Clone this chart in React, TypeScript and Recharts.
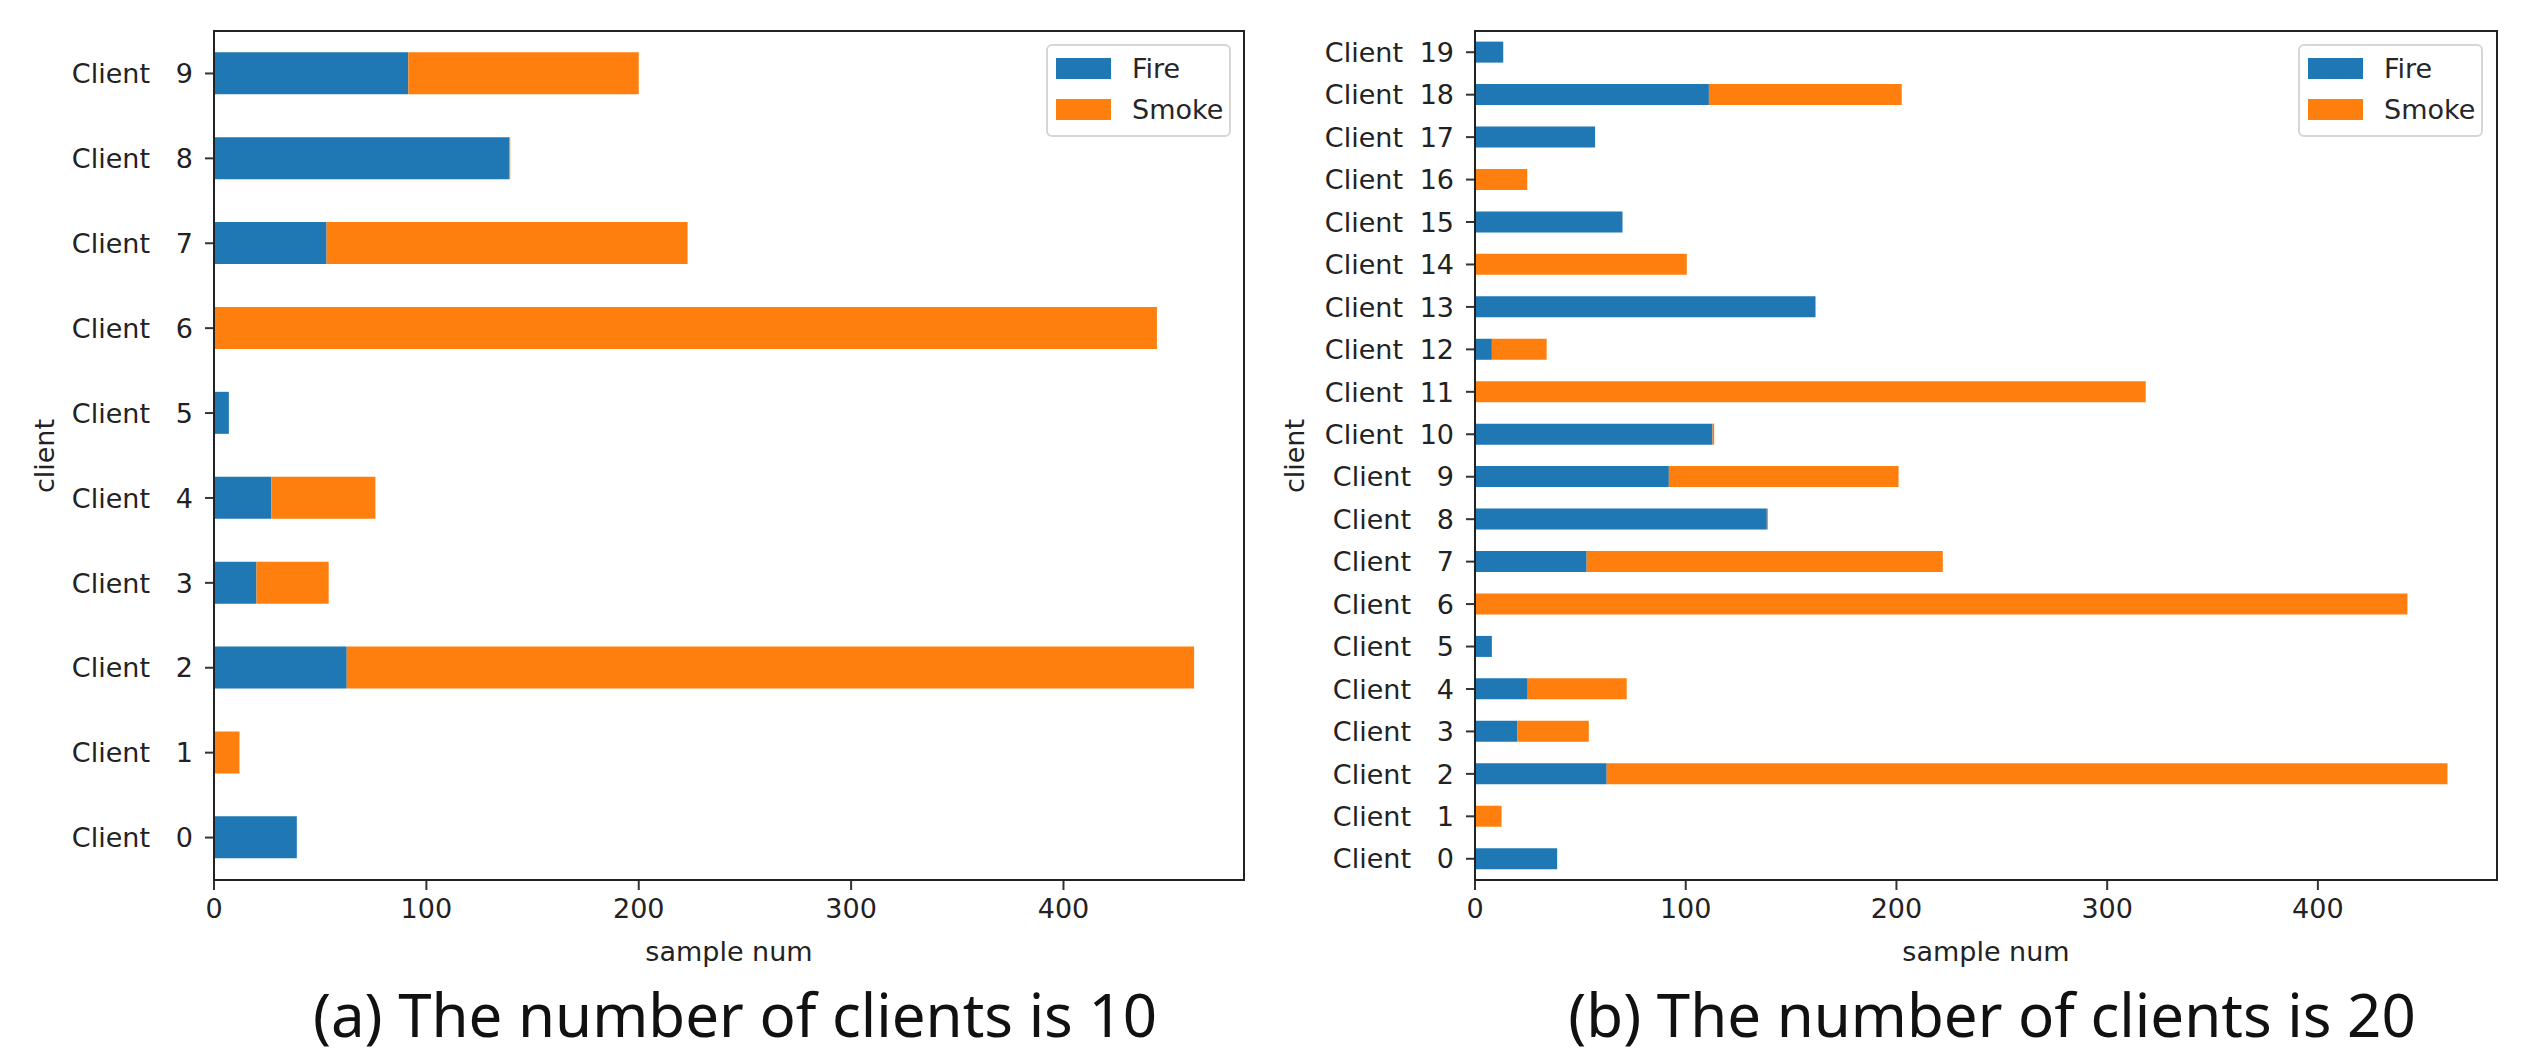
import React from "react";
import { BarChart, Bar, XAxis, YAxis } from "recharts";

// values (sample counts per client)
const clients10 = ["Client 0", "Client 1", "Client 2", "Client 3", "Client 4", "Client 5", "Client 6", "Client 7", "Client 8", "Client 9"];
const fire10 = [39, 0, 62.5, 20, 27, 7, 0, 53, 139, 91.5];
const smoke10 = [0, 12, 399, 34, 49, 0, 444, 170, 0.5, 108.5];

const clients20 = [
  "Client 0", "Client 1", "Client 2", "Client 3", "Client 4", "Client 5", "Client 6", "Client 7", "Client 8", "Client 9",
  "Client 10", "Client 11", "Client 12", "Client 13", "Client 14", "Client 15", "Client 16", "Client 17", "Client 18", "Client 19",
];
const fire20 = [39, 0, 62.5, 20, 25, 8, 0, 53, 138.5, 92, 112.7, 0, 8, 161.6, 0, 70, 0, 57, 111, 13.4];
const smoke20 = [0, 12.6, 399, 34, 47, 0, 442.5, 169, 0.5, 109, 0.8, 318.3, 26, 0, 100.5, 0, 24.8, 0, 91.5, 0];

const xTicks = [0, 100, 200, 300, 400];
const FIRE = "#1f77b4";
const SMOKE = "#ff7f0e";
const TICK_FONT = "DejaVu Sans";

const ClientTick = (props: any) => {
  const { x, y, payload } = props;
  const [word, num] = String(payload.value).split(" ");
  const wordEnd = x - (num.length === 1 ? 43 : 51);
  return (
    <g>
      <text x={wordEnd} y={y} dy="0.36em" textAnchor="end" fontSize={27} fontFamily={TICK_FONT} fill="#222">
        {word}
      </text>
      <text x={x} y={y} dy="0.36em" textAnchor="end" fontSize={27} fontFamily={TICK_FONT} fill="#222">
        {num}
      </text>
    </g>
  );
};

type PanelProps = {
  left: number;
  width: number;
  plotLeft: number;
  plotRight: number;
  clients: string[];
  fire: number[];
  smoke: number[];
  caption: string;
  legendLeft: number;
  yLabelX: number;
};

function Panel({ left, width, plotLeft, plotRight, clients, fire, smoke, caption, legendLeft, yLabelX }: PanelProps) {
  const data = clients.map((name, i) => ({ name, Fire: fire[i], Smoke: smoke[i] }));
  const plotTop = 31;
  const plotBottom = 880;
  const cx = (plotLeft + plotRight) / 2;
  return (
    <div style={{ position: "absolute", left, top: 0, width, height: 1059 }}>
      <BarChart
        width={width}
        height={1059}
        data={data}
        layout="vertical"
        barCategoryGap="25%"
        margin={{ top: plotTop, right: width - plotRight, bottom: 0, left: 0 }}
      >
        <XAxis
          type="number"
          domain={[0, 485]}
          ticks={xTicks}
          allowDataOverflow
          height={1059 - plotBottom}
          axisLine={false}
          tickSize={10}
          tickMargin={9}
          tickLine={{ stroke: "#333", strokeWidth: 2 }}
          tick={{ fontSize: 27, fontFamily: TICK_FONT, fill: "#222" }}
        />
        <YAxis
          type="category"
          dataKey="name"
          reversed
          width={plotLeft}
          axisLine={false}
          tickSize={9}
          tickMargin={12}
          interval={0}
          tickLine={{ stroke: "#333", strokeWidth: 2 }}
          tick={<ClientTick />}
        />
        <Bar dataKey="Fire" stackId="s" fill={FIRE} isAnimationActive={false} />
        <Bar dataKey="Smoke" stackId="s" fill={SMOKE} isAnimationActive={false} />
      </BarChart>

      {/* axes frame */}
      <div
        style={{
          position: "absolute",
          left: plotLeft - 1,
          top: plotTop - 1,
          width: plotRight - plotLeft + 2,
          height: plotBottom - plotTop + 2,
          border: "2px solid #222",
          boxSizing: "border-box",
          pointerEvents: "none",
        }}
      />

      {/* legend */}
      <div
        style={{
          position: "absolute",
          left: legendLeft,
          top: 44,
          width: 185,
          height: 93,
          border: "2px solid #d6d6d6",
          borderRadius: 6,
          boxSizing: "border-box",
          background: "rgba(255,255,255,0.8)",
          fontFamily: TICK_FONT,
          fontSize: 27,
          color: "#262626",
        }}
      >
        {[
          { name: "Fire", color: FIRE, top: 12 },
          { name: "Smoke", color: SMOKE, top: 53 },
        ].map((it) => (
          <div key={it.name}>
            <div style={{ position: "absolute", left: 8, top: it.top, width: 55, height: 21, background: it.color }} />
            <div style={{ position: "absolute", left: 84, top: it.top - 4, lineHeight: "29px", whiteSpace: "nowrap" }}>{it.name}</div>
          </div>
        ))}
      </div>

      {/* axis titles */}
      <div
        style={{
          position: "absolute",
          left: cx,
          top: 938,
          transform: "translateX(-50%)",
          fontFamily: TICK_FONT,
          fontSize: 27,
          lineHeight: "27px",
          color: "#222",
          whiteSpace: "nowrap",
        }}
      >
        sample num
      </div>
      <div
        style={{
          position: "absolute",
          left: yLabelX,
          top: (plotTop + plotBottom) / 2,
          transform: "translate(-50%, -50%) rotate(-90deg)",
          fontFamily: TICK_FONT,
          fontSize: 27,
          lineHeight: "27px",
          color: "#222",
          whiteSpace: "nowrap",
        }}
      >
        client
      </div>

      {/* caption */}
      <div
        style={{
          position: "absolute",
          left: cx + 6,
          top: 984,
          transform: "translateX(-50%)",
          fontFamily: "Noto Sans",
          fontSize: 60,
          lineHeight: "60px",
          color: "#111",
          whiteSpace: "nowrap",
        }}
      >
        {caption}
      </div>
    </div>
  );
}

export default function App() {
  return (
    <div style={{ position: "absolute", left: 0, top: 0, width: 2525, height: 1059, background: "#fff", overflow: "hidden" }}>
      <Panel
        left={0}
        width={1262}
        plotLeft={214}
        plotRight={1244}
        clients={clients10}
        fire={fire10}
        smoke={smoke10}
        caption="(a) The number of clients is 10"
        legendLeft={1046}
        yLabelX={44}
      />
      <Panel
        left={1262}
        width={1263}
        plotLeft={213}
        plotRight={1235}
        clients={clients20}
        fire={fire20}
        smoke={smoke20}
        caption="(b) The number of clients is 20"
        legendLeft={1036}
        yLabelX={32}
      />
    </div>
  );
}
